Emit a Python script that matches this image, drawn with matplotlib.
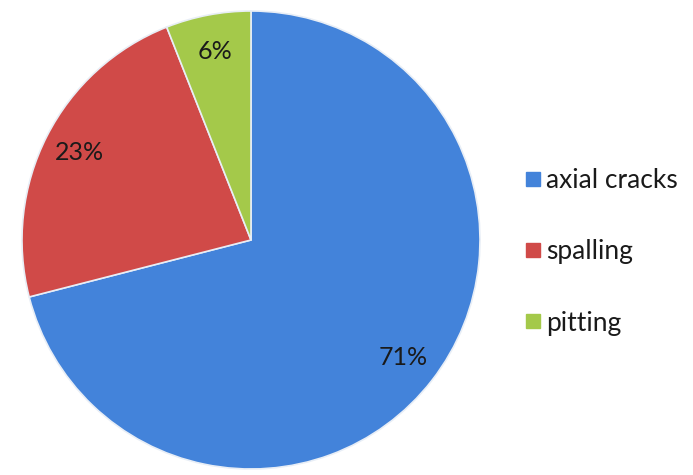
import matplotlib
matplotlib.use("Agg")
import matplotlib.pyplot as plt
from matplotlib.lines import Line2D

categories = ["axial cracks", "spalling", "pitting"]
values = [71, 23, 6]
colors = ["#4383DA", "#D04A48", "#A4C94A"]

plt.rcParams['font.family'] = ['Lato', 'DejaVu Sans']

fig = plt.figure(figsize=(6.93, 4.75), dpi=100)
W, H = 693, 475
cx, cy, r = 251, 475 - 240, 229
ax = fig.add_axes([(cx - r) / W, (cy - r) / H, 2 * r / W, 2 * r / H])
wedges, texts, autotexts = ax.pie(
    values, colors=colors, startangle=90, counterclock=False,
    autopct=lambda p: f"{p:.0f}%", pctdistance=0.84, radius=1.0,
    wedgeprops=dict(edgecolor="#E8EEF6", linewidth=1.2),
    textprops=dict(fontsize=18, color="#1a1a1a"))
ax.set_xlim(-1.0, 1.0)
ax.set_ylim(-1.0, 1.0)
ax.set_aspect("equal")
ax.axis("off")

handles = [Line2D([0], [0], marker="s", linestyle="none", markersize=9.5,
                  markerfacecolor=c, markeredgecolor=c) for c in colors]
fig.legend(handles, categories, loc="center left", bbox_to_anchor=(525 / W, 1 - 252 / H),
           frameon=False, fontsize=19, handlelength=0.6, handletextpad=0.2,
           borderaxespad=0, borderpad=0,
           labelspacing=1.75, labelcolor="#1a1a1a")

fig.savefig("out.png", dpi=100)
